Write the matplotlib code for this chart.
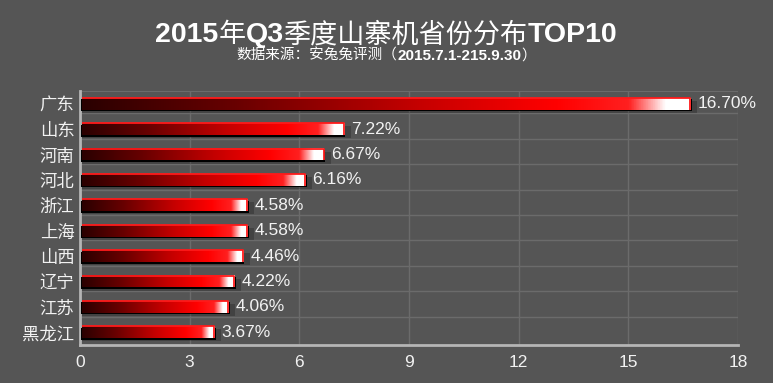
import numpy as np
import matplotlib
matplotlib.use('Agg')
import matplotlib.pyplot as plt
from matplotlib.colors import LinearSegmentedColormap
from matplotlib.patches import Rectangle
from matplotlib.offsetbox import TextArea, HPacker, AnnotationBbox

provinces = ['广东', '山东', '河南', '河北', '浙江', '上海', '山西', '辽宁', '江苏', '黑龙江']
shares = [16.70, 7.22, 6.67, 6.16, 4.58, 4.58, 4.46, 4.22, 4.06, 3.67]
xticks = [0, 3, 6, 9, 12, 15, 18]

BG = '#555555'
GRID = '#6b6b6b'
TXT = '#f2f2f2'
CJK = ['Noto Sans CJK SC', 'DejaVu Sans']
LAT = ['Liberation Sans', 'DejaVu Sans']

bar_cmap = LinearSegmentedColormap.from_list('bar', [
    (0.00, '#2a0000'),
    (0.25, '#680000'),
    (0.55, '#c40000'),
    (0.78, '#ff0000'),
    (0.90, '#ff2020'),
    (0.96, '#ffffff'),
    (1.00, '#ffffff'),
])

fig = plt.figure(figsize=(7.73, 3.83), dpi=100, facecolor=BG)
ax = fig.add_axes([80 / 773, 1 - 345 / 383, 658 / 773, 254 / 383])
ax.set_facecolor(BG)

h = 0.47
grad = np.linspace(0, 1, 256).reshape(1, -1)
for i, v in enumerate(shares):
    # soft shadow + hard black edge under the bar
    ax.add_patch(Rectangle((0.05, i - h / 2 + 0.12), v + 0.14, h, color='black', alpha=0.22, lw=0, zorder=2))
    ax.add_patch(Rectangle((0.02, i - h / 2 + 0.06), v + 0.02, h, color='black', lw=0, zorder=3))
    ax.imshow(grad, cmap=bar_cmap, aspect='auto', extent=(0.05, v, i + h / 2, i - h / 2), zorder=4)
    # bright red top and right edges
    ax.plot([0.05, v, v], [i - h / 2, i - h / 2, i + h / 2], color='#ff1a1a', lw=1.3, zorder=5,
            solid_capstyle='butt')
    ax.text(v + 0.2, i, f'{v:.2f}%', va='center', ha='left', color=TXT,
            fontsize=12.5, family=LAT, zorder=6)

ax.set_xlim(0, 18)
ax.set_ylim(9.5, -0.5)
ax.set_xticks(xticks)
ax.set_xticklabels([str(t) for t in xticks], family=LAT, fontsize=12.5, color=TXT)
ax.set_yticks(range(len(provinces)))
ax.set_yticklabels(provinces, family=CJK, fontsize=12.5, color=TXT)
ax.tick_params(length=0, pad=4)
ax.tick_params(axis='x', pad=7)

# grid: vertical at ticks, horizontal just below each bar
for t in xticks[1:]:
    ax.axvline(t, color=GRID, lw=1.0, zorder=1)
for i in range(len(provinces) - 1):
    ax.axhline(i + 0.38, color=GRID, lw=1.0, zorder=1)
ax.axhline(-0.5, color=GRID, lw=1.5, zorder=1)

for s in ['top', 'right']:
    ax.spines[s].set_visible(False)
for s in ['left', 'bottom']:
    ax.spines[s].set_color('#b5b5b5')
    ax.spines[s].set_linewidth(2)

# title with mixed fonts
def part(s, fam, size, weight):
    return TextArea(s, textprops=dict(family=fam, fontsize=size, fontweight=weight, color='white'))

title = HPacker(children=[
    part('2015', LAT, 20.5, 'bold'),
    part('年', CJK, 19.5, 'normal'),
    part('Q3', LAT, 20.5, 'bold'),
    part('季度山寨机省份分布', CJK, 19.5, 'normal'),
    part('TOP10', LAT, 20.5, 'bold'),
], align='baseline', pad=0, sep=0)
fig.add_artist(AnnotationBbox(title, (0.5, 1 - 35 / 383), xycoords='figure fraction',
                              frameon=False, box_alignment=(0.5, 0.5)))

sub = HPacker(children=[
    part('数据来源：安兔兔评测（', CJK, 10.5, 'normal'),
    part('2015.7.1-215.9.30', LAT, 11, 'bold'),
    part('）', CJK, 10.5, 'normal'),
], align='baseline', pad=0, sep=0)
fig.add_artist(AnnotationBbox(sub, (0.5, 1 - 56 / 383), xycoords='figure fraction',
                              frameon=False, box_alignment=(0.5, 0.5)))

fig.savefig('out.png', dpi=100, facecolor=BG)
